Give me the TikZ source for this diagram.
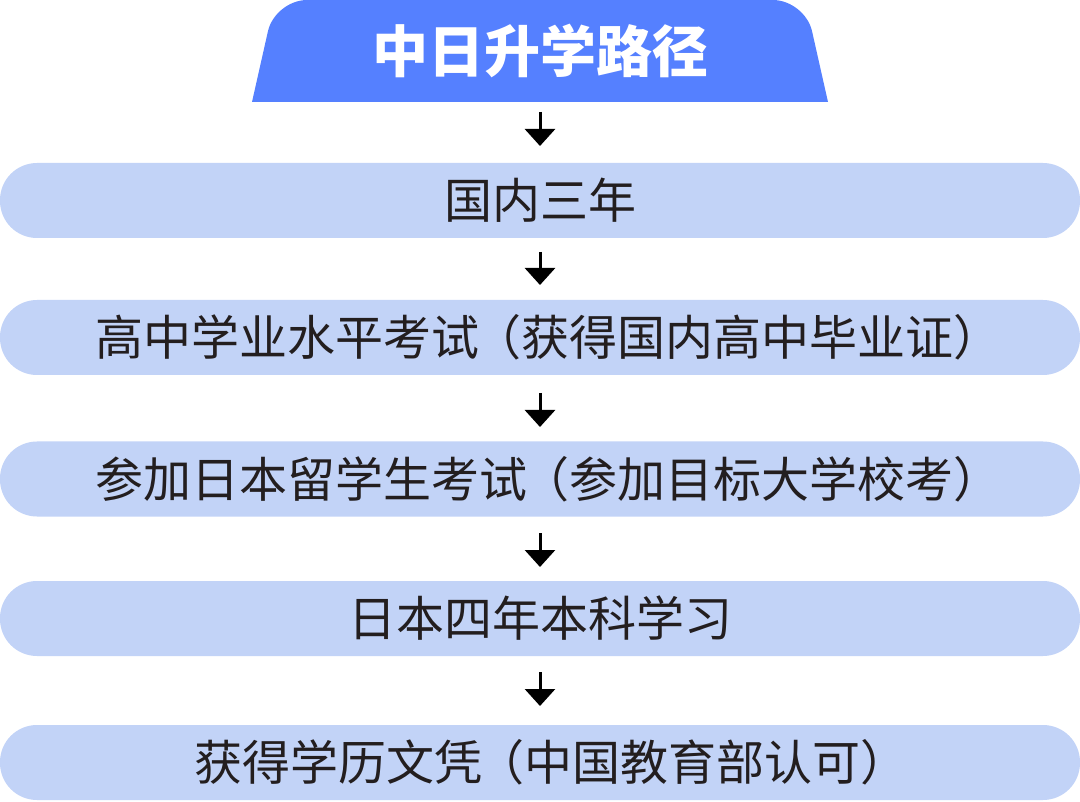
\documentclass[tikz,border=0pt]{standalone}
\usepackage{fontspec}
\newfontfamily\cjk{Noto Sans CJK SC}
\usetikzlibrary{arrows.meta}
\definecolor{titleblue}{HTML}{5580FF}
\definecolor{boxblue}{HTML}{C2D3F7}
\definecolor{txt}{HTML}{231E1F}
\tikzset{
  stepbox/.style={fill=boxblue, rounded corners=37pt, minimum width=1080pt, minimum height=75pt, inner sep=0pt, text=txt, font=\cjk\fontsize{48pt}{50pt}\selectfont},
  steptext/.style={inner sep=0pt, text=txt, font=\cjk\fontsize{48pt}{50pt}\selectfont},
  flowarrow/.style={line width=3pt, -{Triangle[width=30pt,length=17pt]}, black}
}
\begin{document}
\begin{tikzpicture}[x=1pt,y=-1pt]
\useasboundingbox (0,0) rectangle (1080,802);
\fill[titleblue] (252,102) [rounded corners=32pt] -- (275,0) -- (805,0) [sharp corners] -- (828,102) -- cycle;
\node[text=white, font=\cjk\bfseries\fontsize{56pt}{60pt}\selectfont] (title) at (540,51) {中日升学路径};
\node[stepbox] (b1) at (540,200.5) {国内三年};
\node[stepbox] (b2) at (540,337.5) {};
\node[steptext] (t2) at ([xshift=8.5pt]b2.center) {高中学业水平考试\hspace{-6pt}（获得国内高中毕业证）\hspace{-12pt}};
\node[stepbox] (b3) at (540,479) {};
\node[steptext] (t3) at ([xshift=8.5pt]b3.center) {参加日本留学生考试\hspace{-6pt}（参加目标大学校考）\hspace{-12pt}};
\node[stepbox] (b4) at (540,618.5) {日本四年本科学习};
\node[stepbox] (b5) at (540,762.5) {};
\node[steptext] (t5) at ([xshift=11.5pt]b5.center) {获得学历文凭\hspace{-6pt}（中国教育部认可）\hspace{-12pt}};
\coordinate (a1s) at (540,112); \coordinate (a1e) at (540,146);
\coordinate (a2s) at (540,252); \coordinate (a2e) at (540,285);
\coordinate (a3s) at (540,393); \coordinate (a3e) at (540,427);
\coordinate (a4s) at (540,533); \coordinate (a4e) at (540,567);
\coordinate (a5s) at (540,672); \coordinate (a5e) at (540,706);
\draw[flowarrow] (a1s) -- (a1e);
\draw[flowarrow] (a2s) -- (a2e);
\draw[flowarrow] (a3s) -- (a3e);
\draw[flowarrow] (a4s) -- (a4e);
\draw[flowarrow] (a5s) -- (a5e);
\end{tikzpicture}
\end{document}
